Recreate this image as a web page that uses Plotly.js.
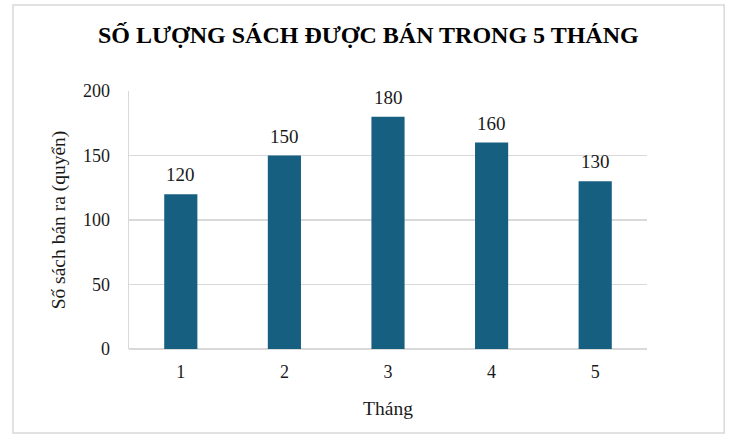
<!DOCTYPE html>
<html>
<head>
<meta charset="utf-8">
<script src="https://cdn.plot.ly/plotly-3.0.1.min.js"></script>
<style>
  html, body { margin: 0; padding: 0; background: #ffffff; }
  #chart { width: 741px; height: 443px; }
</style>
</head>
<body>
<div id="chart"></div>
<script>
// Chart data
const months = ['1', '2', '3', '4', '5'];
const booksSold = [120, 150, 180, 160, 130];
const yTicks = [0, 50, 100, 150, 200];

const BAR_COLOR = '#175f81';
const GRID_COLOR = '#d9d9d9';
const FONT = 'Liberation Serif, Times New Roman, serif';

const trace = {
    type: 'bar',
    x: months,
    y: booksSold,
    marker: { color: BAR_COLOR },
    hoverinfo: 'x+y'
};

// value labels above the bars (x is the category index on a category axis)
const labels = booksSold.map((v, i) => ({
    x: i,
    y: v,
    xref: 'x', yref: 'y',
    text: String(v),
    showarrow: false,
    yanchor: 'bottom',
    yshift: 7,
    font: { family: FONT, size: 19, color: '#1a1a1a' }
}));

const layout = {
    width: 741,
    height: 443,
    margin: { l: 129, r: 94, t: 91, b: 94 },
    paper_bgcolor: '#ffffff',
    plot_bgcolor: '#ffffff',
    font: { family: FONT, size: 18, color: '#1a1a1a' },
    title: {
        text: '<b>SỐ LƯỢNG SÁCH ĐƯỢC BÁN TRONG 5 THÁNG</b>',
        font: { family: FONT, size: 24, color: '#000000' },
        x: 0.497,
        xanchor: 'center',
        y: 0.922,
        yanchor: 'middle'
    },
    bargap: 0.68,
    showlegend: false,
    xaxis: {
        type: 'category',
        range: [-0.5, months.length - 0.5],
        title: { text: 'Tháng', font: { family: FONT, size: 19.5 }, standoff: 20 },
        showgrid: false,
        showline: false,
        zeroline: false,
        ticks: '',
        ticklabelstandoff: 10,
        tickfont: { family: FONT, size: 18 }
    },
    yaxis: {
        range: [0, 200],
        tickvals: yTicks,
        title: { text: 'Số sách bán ra (quyển)', font: { family: FONT, size: 19.5 }, standoff: 12 },
        showgrid: true,
        gridcolor: GRID_COLOR,
        gridwidth: 1.3,
        showline: true,
        linecolor: GRID_COLOR,
        linewidth: 1.3,
        zeroline: true,
        zerolinecolor: GRID_COLOR,
        zerolinewidth: 1.5,
        ticks: '',
        ticklabelstandoff: 14,
        tickfont: { family: FONT, size: 18 }
    },
    annotations: labels,
    shapes: [{
        // outer chart border
        type: 'rect',
        xref: 'paper', yref: 'paper',
        x0: -0.224, x1: 1.149,
        y0: -0.326, y1: 1.333,
        line: { color: '#d9d9d9', width: 1.5 },
        fillcolor: 'rgba(0,0,0,0)',
        layer: 'below'
    }]
};

Plotly.newPlot('chart', [trace], layout, { displayModeBar: false, staticPlot: true });
</script>
</body>
</html>
